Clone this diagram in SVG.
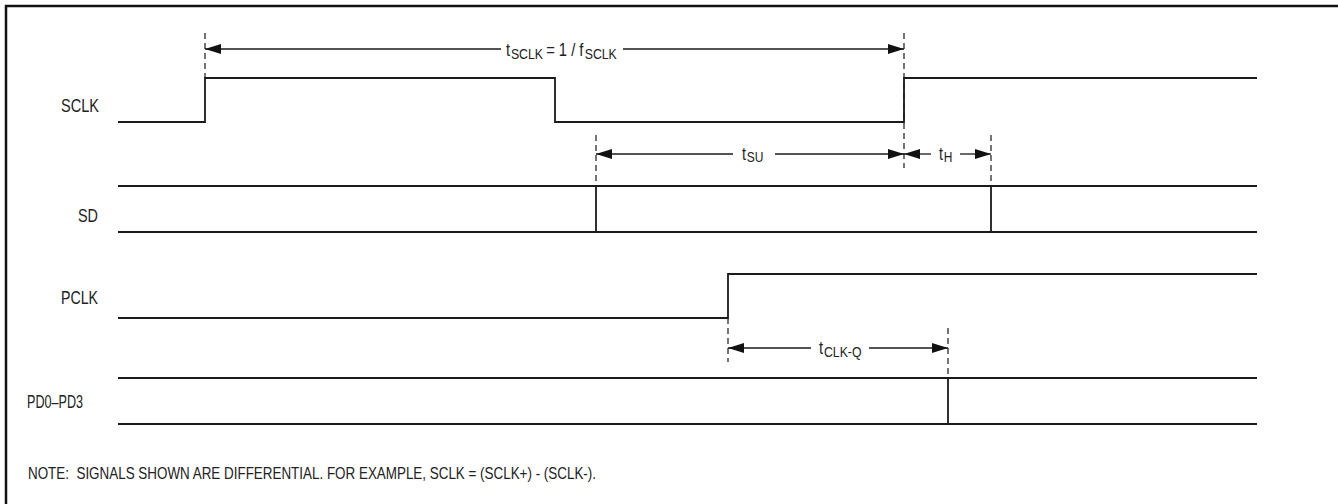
<svg xmlns="http://www.w3.org/2000/svg" width="1338" height="504" viewBox="0 0 1338 504">
<defs>
<style>
.sig{fill:none;stroke:#1a1a1a;stroke-width:1.8;stroke-linejoin:miter}
.dash{fill:none;stroke:#1a1a1a;stroke-width:1.2;stroke-dasharray:6,4}
.dim{fill:none;stroke:#1a1a1a;stroke-width:1.3}
.lbl{font-family:"Liberation Sans",Arial,sans-serif;font-size:19px;fill:#222}
.tl{font-family:"Liberation Sans",Arial,sans-serif;font-size:18px;fill:#222}
.sub{font-family:"Liberation Sans",Arial,sans-serif;font-size:15px;fill:#222}
.note{font-family:"Liberation Sans",Arial,sans-serif;font-size:17px;fill:#222}
</style>
<marker id="ah" viewBox="0 0 16 10" refX="16" refY="5" markerWidth="16" markerHeight="10" markerUnits="userSpaceOnUse" orient="auto-start-reverse">
<path d="M0,0 L16,5 L0,10 Z" fill="#111"/>
</marker>
</defs>
<rect x="0" y="0" width="1338" height="504" fill="#fff"/>
<path d="M6,504 V6 H1338" fill="none" stroke="#111" stroke-width="2.5"/>

<g id="sclk">
<text class="lbl" x="99" y="112" text-anchor="end" textLength="38" lengthAdjust="spacingAndGlyphs">SCLK</text>
<path class="sig" d="M118,122 H205 V78 H555 V122 H904 V78 H1257"/>
</g>
<g id="sd">
<text class="lbl" x="98" y="222" text-anchor="end" textLength="20" lengthAdjust="spacingAndGlyphs">SD</text>
<path class="sig" d="M118,186 H1257 M118,232 H1257 M596,186 V232 M991,186 V232"/>
</g>
<g id="pclk">
<text class="lbl" x="98" y="304" text-anchor="end" textLength="37" lengthAdjust="spacingAndGlyphs">PCLK</text>
<path class="sig" d="M118,318 H728 V274 H1257"/>
</g>
<g id="pd">
<text class="lbl" x="27" y="408" textLength="56" lengthAdjust="spacingAndGlyphs">PD0–PD3</text>
<path class="sig" d="M118,378 H1257 M118,424 H1257 M948,378 V424"/>
</g>

<g id="connectors">
<path class="dash" d="M205,33 V78"/>
<path class="dash" d="M904,33 V168"/>
<path class="dash" d="M596,135 V182"/>
<path class="dash" d="M991,135 V182"/>
<path class="dash" d="M728,318 V362"/>
<path class="dash" d="M948,328 V378"/>
<path class="dim" d="M501,49 H205" marker-end="url(#ah)"/>
<path class="dim" d="M623,49 H904" marker-end="url(#ah)"/>
<path class="dim" d="M733,154 H596" marker-end="url(#ah)"/>
<path class="dim" d="M775,154 H904" marker-end="url(#ah)"/>
<path class="dim" d="M931,154 H904" marker-end="url(#ah)"/>
<path class="dim" d="M960,154 H991" marker-end="url(#ah)"/>
<path class="dim" d="M811,348 H728" marker-end="url(#ah)"/>
<path class="dim" d="M869,348 H948" marker-end="url(#ah)"/>
</g>

<g id="labels">
<g transform="translate(506,56) scale(0.82,1)">
<text class="tl" x="0" y="0">t</text>
<text class="sub" x="6" y="3">SCLK</text>
<text class="tl" x="49" y="0">= 1 / f</text>
<text class="sub" x="96" y="3">SCLK</text>
</g>
<g transform="translate(742,160) scale(0.8,1)">
<text class="tl" x="0" y="0">t</text>
<text class="sub" x="6" y="2">SU</text>
</g>
<g transform="translate(939,160) scale(0.8,1)">
<text class="tl" x="0" y="0">t</text>
<text class="sub" x="6" y="2">H</text>
</g>
<g transform="translate(819,354) scale(0.82,1)">
<text class="tl" x="0" y="0">t</text>
<text class="sub" x="6" y="3">CLK-Q</text>
</g>
</g>

<text class="note" x="28" y="479" textLength="568" lengthAdjust="spacingAndGlyphs">NOTE:&#160; SIGNALS SHOWN ARE DIFFERENTIAL. FOR EXAMPLE, SCLK = (SCLK+) - (SCLK-).</text>
</svg>
